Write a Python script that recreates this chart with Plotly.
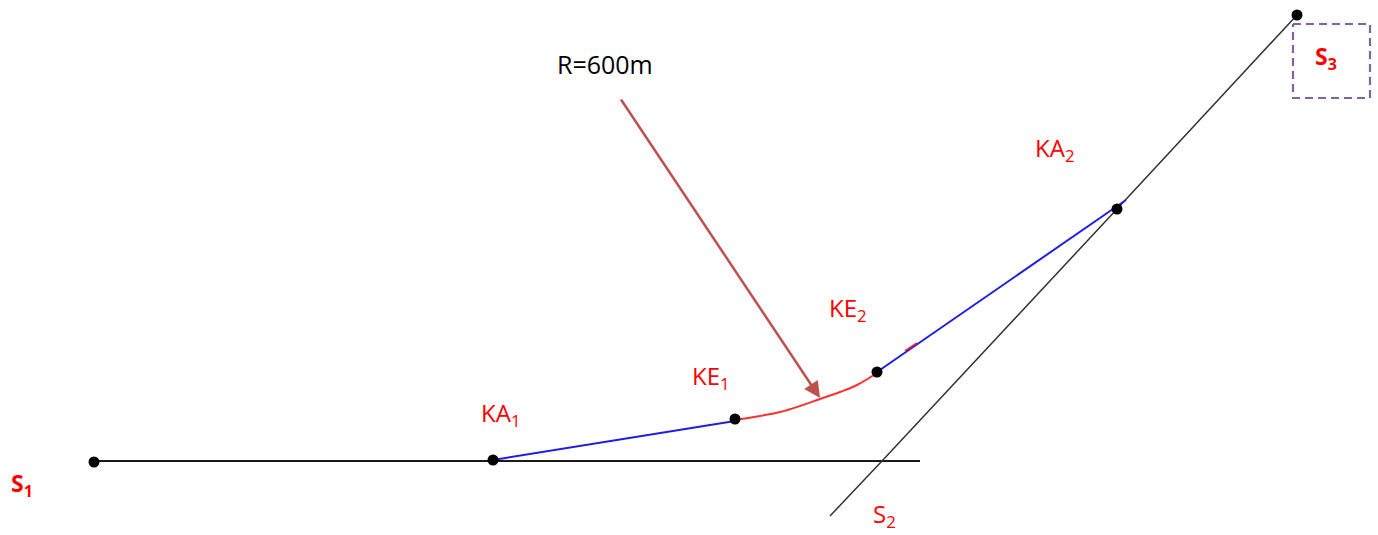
import plotly.graph_objects as go

# Geometry (pixel-like sketch units)
road1_x = [94, 920]
road1_y = [461, 461]
road2_x = [830, 882, 1117, 1297]
road2_y = [516, 461, 209, 15]
tangent1_x = [493, 735]
tangent1_y = [460, 421]
arc_x = [735, 760, 780, 800, 820, 840, 857, 877]
arc_y = [420, 416, 412, 406, 399, 392, 385, 373]
tangent2_x = [877, 1126]
tangent2_y = [372, 200]
arc_trace_x = [905, 917]
arc_trace_y = [351, 343]
node_x = [94, 493, 735, 877, 1117, 1297]
node_y = [462, 460, 419, 372, 209, 15]
box_x = [1293, 1370, 1370, 1293, 1293]
box_y = [24, 24, 98, 98, 24]
arrow_x = [620, 820]
arrow_y = [98, 398]

label_text = ["KA<sub>1</sub>", "KE<sub>1</sub>", "KE<sub>2</sub>", "KA<sub>2</sub>", "S<sub>2</sub>"]
label_x = [500, 711, 848, 1054, 884]
label_y = [414, 377, 309, 149, 515]
bold_text = ["<b>S<sub>1</sub></b>", "<b>S<sub>3</sub></b>"]
bold_x = [22, 1326]
bold_y = [484, 57]
note_text = ["R=600m"]
note_x = [605]
note_y = [64]

fig = go.Figure()
def line(x, y, color, width, dash="solid", shape="linear"):
    fig.add_trace(go.Scatter(x=x, y=y, mode="lines", line=dict(color=color, width=width, dash=dash, shape=shape),
                             hoverinfo="skip", showlegend=False))

line(road1_x, road1_y, "#1a1a1a", 2)
line(road2_x, road2_y, "#333333", 1.5)
line(tangent1_x, tangent1_y, "#1f1fe0", 2)
line(arc_x, arc_y, "#ff3030", 2, shape="spline")
line(tangent2_x, tangent2_y, "#1f1fe0", 2)
line(arc_trace_x, arc_trace_y, "#e02040", 2)
line(box_x, box_y, "#8064a2", 2.2, "8px,5px")

fig.add_trace(go.Scatter(x=node_x, y=node_y, mode="markers",
                         marker=dict(color="black", size=11), hoverinfo="skip", showlegend=False))

fig.add_annotation(x=arrow_x[1], y=arrow_y[1], ax=arrow_x[0], ay=arrow_y[0], axref="x", ayref="y",
                   xref="x", yref="y", showarrow=True, arrowhead=2, arrowsize=1.3, arrowwidth=2.5,
                   arrowcolor="#c0504d", text="")

FONT = "Open Sans"
for t, x, y in zip(label_text, label_x, label_y):
    fig.add_annotation(x=x, y=y, text=t, showarrow=False, font=dict(family=FONT, size=24, color="#ff0000"))
for t, x, y in zip(bold_text, bold_x, bold_y):
    fig.add_annotation(x=x, y=y, text=t, showarrow=False, font=dict(family=FONT, size=23, color="#ff0000"))
for t, x, y in zip(note_text, note_x, note_y):
    fig.add_annotation(x=x, y=y, text=t, showarrow=False, font=dict(family=FONT, size=25, color="#000000"))

fig.update_layout(width=1378, height=535, margin=dict(l=0, r=0, t=0, b=0),
                  paper_bgcolor="white", plot_bgcolor="white",
                  xaxis=dict(range=[0, 1378], visible=False, fixedrange=True),
                  yaxis=dict(range=[535, 0], visible=False, fixedrange=True))
fig.write_html("out.html", config=dict(displayModeBar=False),
               post_script="document.body.style.margin='0';")
